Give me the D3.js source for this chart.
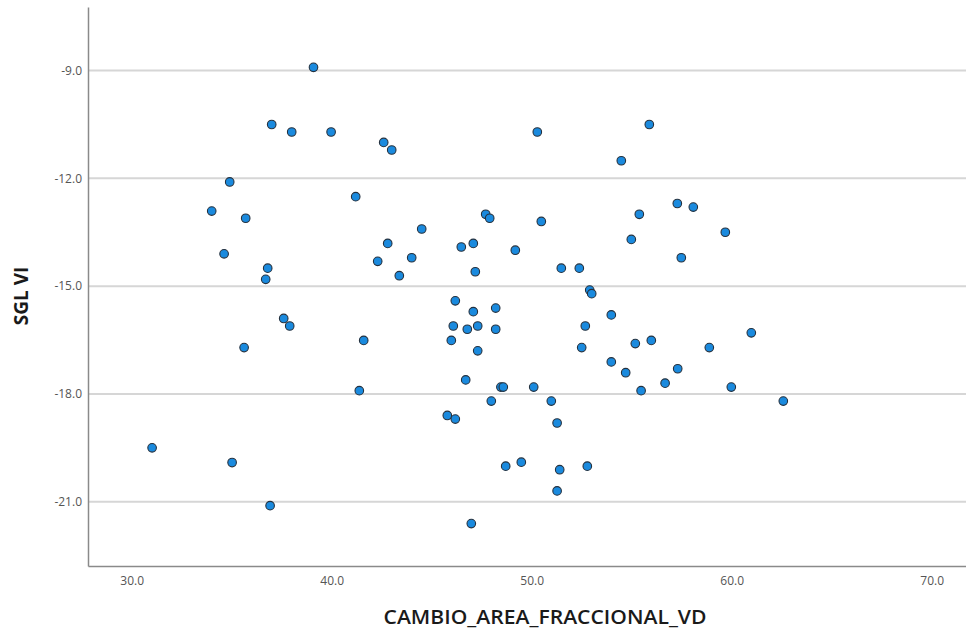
<!DOCTYPE html>
<html>
<head>
<meta charset="utf-8">
<script src="https://cdn.jsdelivr.net/npm/d3@7"></script>
<style>
  body { margin: 0; background: #fff; }
  svg { display: block; }
</style>
</head>
<body>
<div id="chart"></div>
<script>
// CAMBIO_AREA_FRACCIONAL_VD (x) vs SGL VI (y)
var cambioArea = [39.09, 37.0, 38.0, 39.97, 34.9, 34.0, 35.7, 34.62, 36.8, 36.7,
  37.6, 37.9, 35.62, 31.02, 35.02, 36.92, 42.6, 43.0, 50.28, 55.88,
  54.48, 41.2, 47.7, 47.9, 50.48, 55.38, 44.5, 42.8, 47.08, 46.48,
  54.98, 49.18, 42.3, 44.0, 43.38, 47.18, 51.48, 52.38, 52.9, 53.0,
  46.18, 47.08, 48.2, 53.98, 57.28, 58.08, 59.68, 57.48, 46.08, 46.78,
  47.3, 48.2, 41.6, 45.98, 47.3, 46.7, 41.38, 48.46, 48.58, 50.1,
  47.98, 50.98, 45.78, 46.18, 51.27, 48.7, 49.48, 51.4, 52.78, 51.27,
  46.98, 52.68, 52.5, 55.18, 55.98, 53.98, 54.7, 55.47, 60.98, 58.88,
  57.3, 56.67, 59.98, 62.58]
var sglVI = [-8.91, -10.5, -10.71, -10.71, -12.1, -12.91, -13.11, -14.1, -14.5, -14.81,
  -15.9, -16.11, -16.71, -19.5, -19.91, -21.11, -11.0, -11.21, -10.71, -10.5,
  -11.51, -12.51, -13.0, -13.11, -13.2, -13.0, -13.41, -13.81, -13.81, -13.91,
  -13.7, -14.0, -14.31, -14.21, -14.71, -14.6, -14.5, -14.5, -15.11, -15.21,
  -15.41, -15.71, -15.61, -15.8, -12.7, -12.8, -13.5, -14.21, -16.11, -16.2,
  -16.11, -16.2, -16.51, -16.51, -16.8, -17.61, -17.91, -17.81, -17.81, -17.81,
  -18.2, -18.2, -18.6, -18.7, -18.81, -20.01, -19.9, -20.11, -20.01, -20.7,
  -21.61, -16.11, -16.71, -16.6, -16.51, -17.11, -17.41, -17.91, -16.3, -16.71,
  -17.3, -17.7, -17.81, -18.2]

var xTicks = [30, 40, 50, 60, 70]
var yTicks = [-9, -12, -15, -18, -21]

var xTitle = 'CAMBIO_AREA_FRACCIONAL_VD'
var yTitle = 'SGL VI'

var width = 966
var height = 632
var margin = { top: 7, left: 88, right: 0, bottom: 66 }

var svg = d3.select('#chart')
  .append('svg')
  .attr('width', width)
  .attr('height', height)

var xPositionScale = d3.scaleLinear()
  .domain([27.815, 71.715])
  .range([margin.left, width - margin.right])
var yPositionScale = d3.scaleLinear()
  .domain([-22.79, -7.23])
  .range([height - margin.bottom, margin.top])

// grid lines
svg.append('g')
  .selectAll('line')
  .data(yTicks)
  .enter()
  .append('line')
  .attr('x1', margin.left)
  .attr('x2', width - margin.right)
  .attr('y1', d => yPositionScale(d))
  .attr('y2', d => yPositionScale(d))
  .attr('stroke', '#d6d6d6')
  .attr('stroke-width', 2)

// axes
var yAxis = d3.axisLeft(yPositionScale)
  .tickValues(yTicks)
  .tickSize(0)
  .tickPadding(6)
  .tickFormat(d3.format('.1f'))
var xAxis = d3.axisBottom(xPositionScale)
  .tickValues(xTicks)
  .tickSize(0)
  .tickPadding(10)
  .tickFormat(d3.format('.1f'))

var yG = svg.append('g')
  .attr('class', 'axis y-axis')
  .attr('transform', `translate(${margin.left},0)`)
  .call(yAxis)
var xG = svg.append('g')
  .attr('class', 'axis x-axis')
  .attr('transform', `translate(0,${height - margin.bottom})`)
  .call(xAxis)

svg.selectAll('.axis .domain')
  .attr('stroke', '#8a8a8a')
  .attr('stroke-width', 1.5)
svg.selectAll('.axis text')
  .attr('font-family', '"Open Sans", sans-serif')
  .attr('font-size', 12)
  .attr('fill', '#555')
// SPSS style minus sign is a hyphen
yG.selectAll('text').text(d => d3.format('.1f')(d).replace('\u2212', '-'))

// points
svg.append('g')
  .selectAll('circle')
  .data(cambioArea.map((d, i) => ({ x: d, y: sglVI[i] })))
  .enter()
  .append('circle')
  .attr('cx', d => xPositionScale(d.x))
  .attr('cy', d => yPositionScale(d.y))
  .attr('r', 4.3)
  .attr('fill', '#1a8ade')
  .attr('stroke', '#24313f')
  .attr('stroke-width', 1.1)

// titles
svg.append('text')
  .text(xTitle)
  .attr('x', 545)
  .attr('y', 624)
  .attr('text-anchor', 'middle')
  .attr('font-family', '"Open Sans", sans-serif')
  .attr('font-size', 20)
  .attr('font-weight', 600)
  .attr('textLength', 323)
  .attr('lengthAdjust', 'spacingAndGlyphs')
  .attr('fill', '#1a1a1a')

svg.append('text')
  .text(yTitle)
  .attr('transform', 'translate(28,296) rotate(-90)')
  .attr('text-anchor', 'middle')
  .attr('font-family', '"Open Sans", sans-serif')
  .attr('font-size', 19)
  .attr('font-weight', 700)
  .attr('fill', '#1a1a1a')
</script>
</body>
</html>
